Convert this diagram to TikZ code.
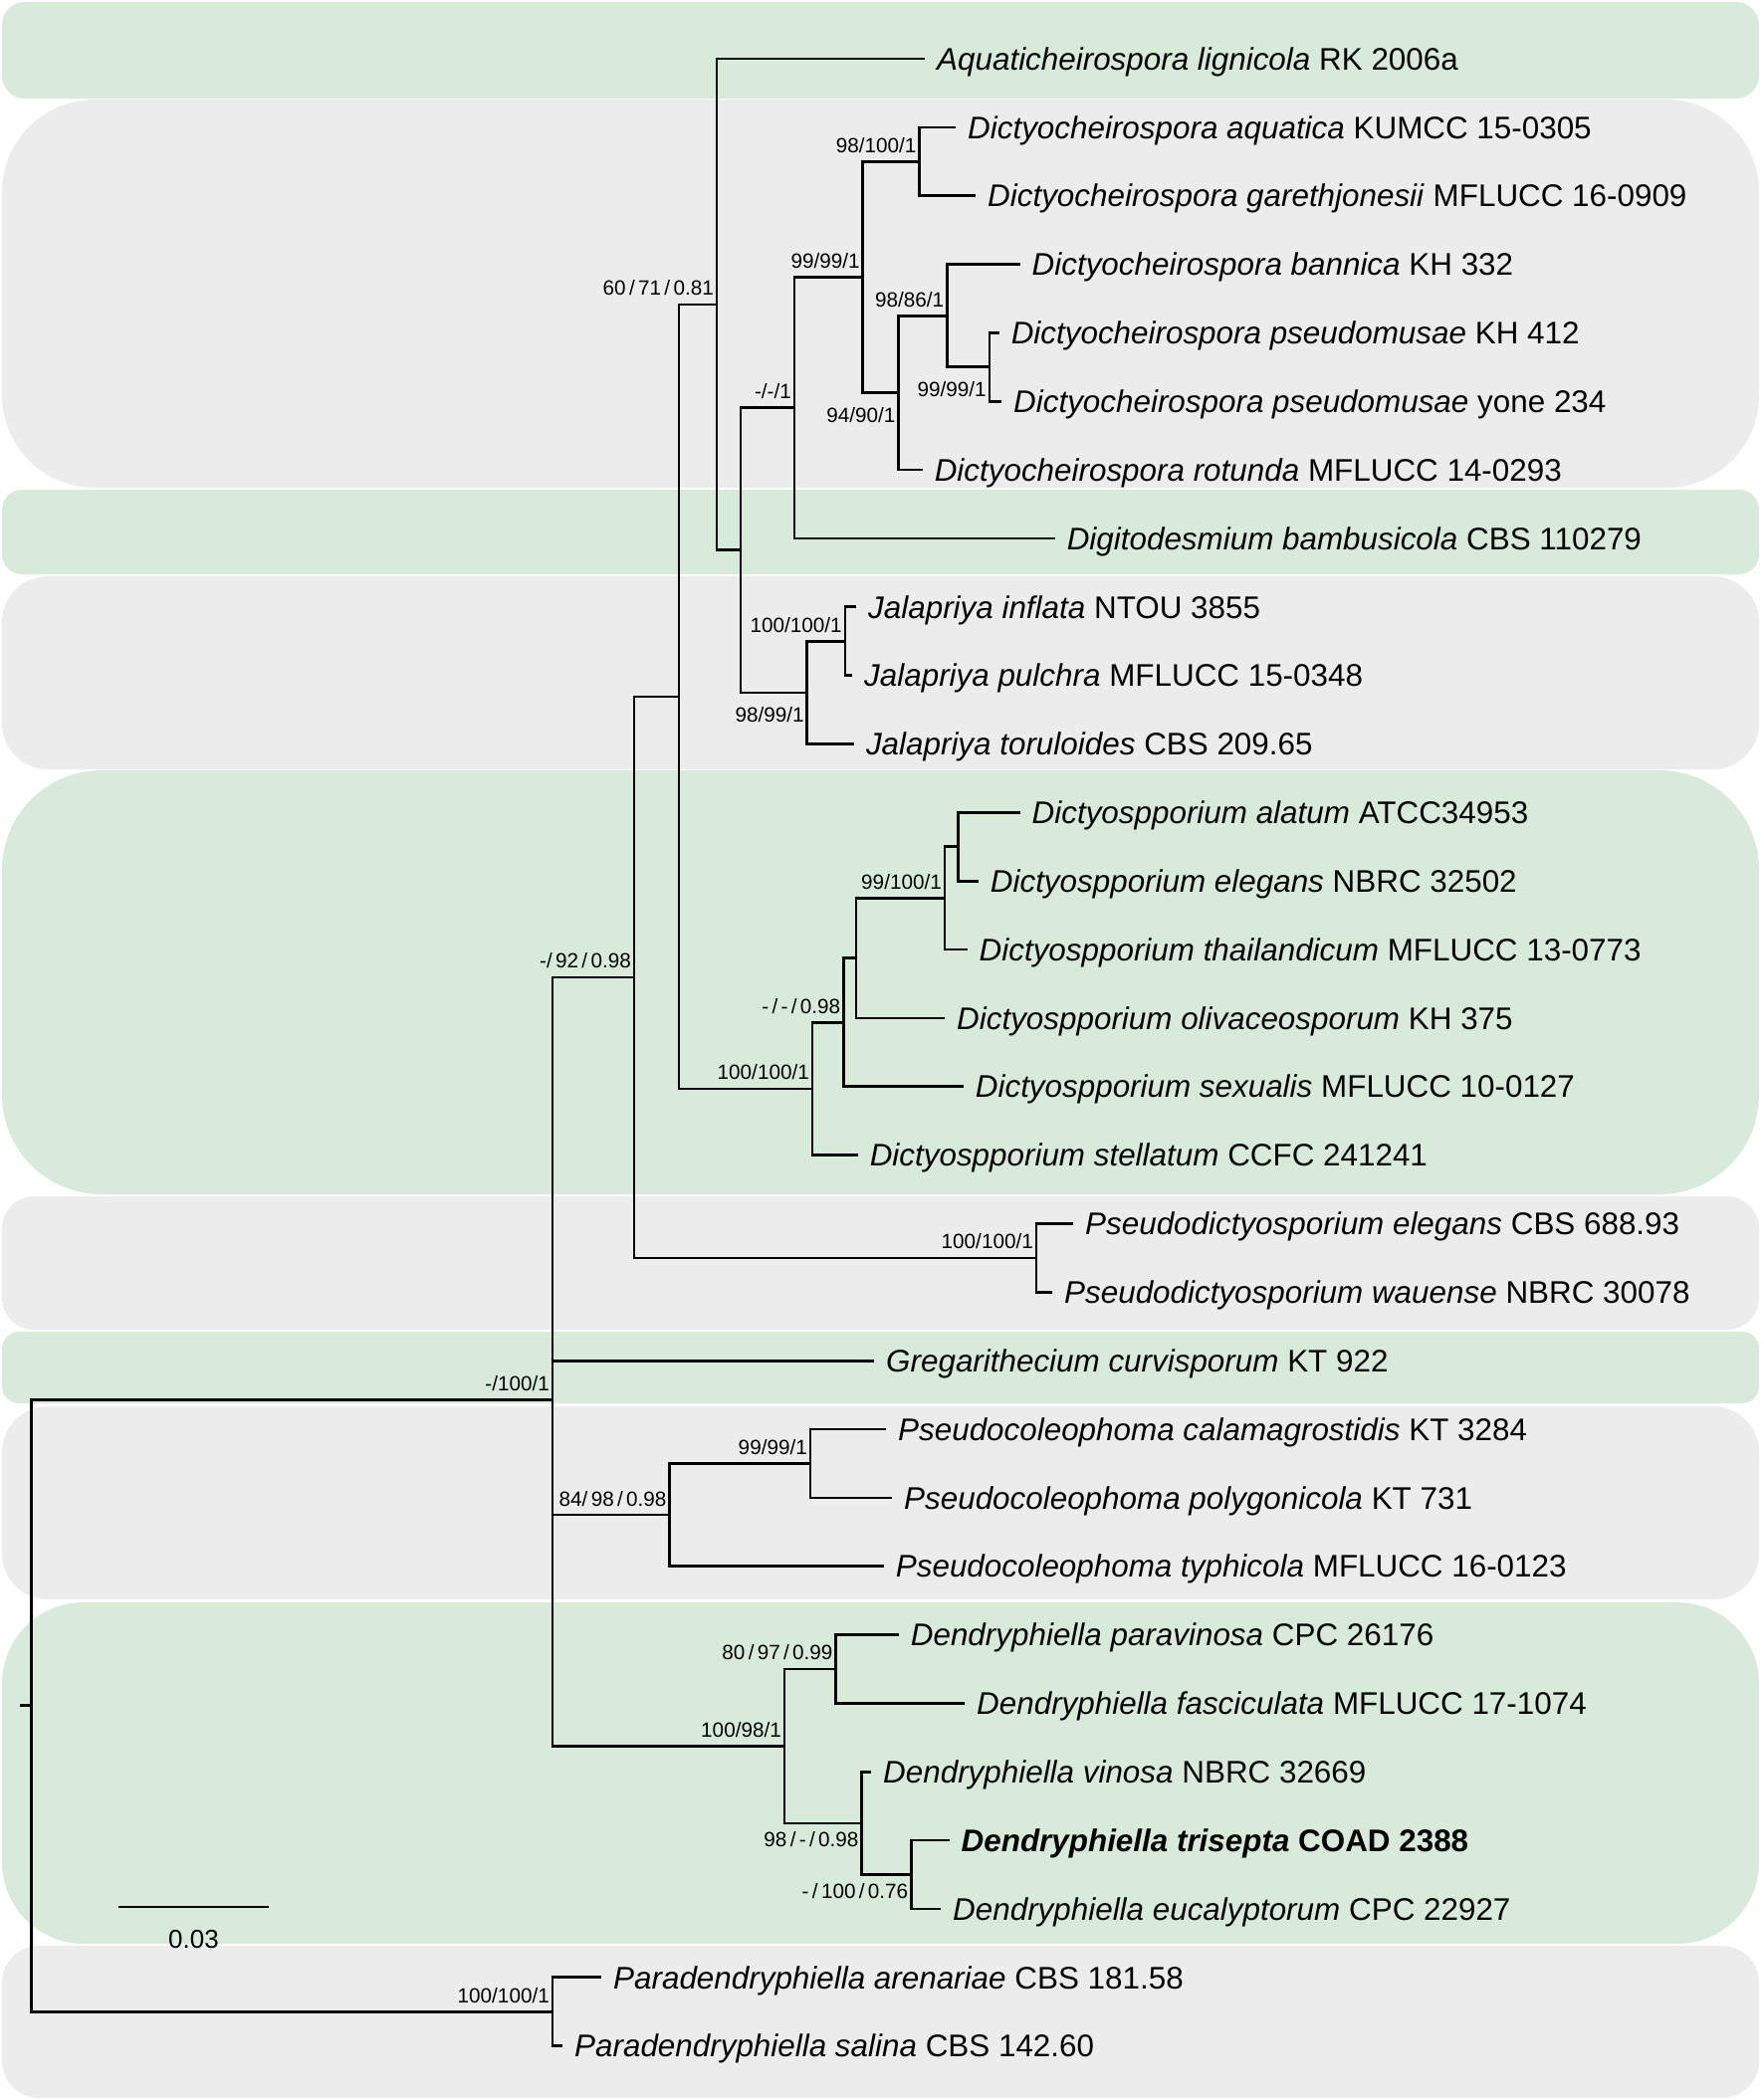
\documentclass[tikz,border=0pt]{standalone}
\usepackage{fontspec}
\setmainfont{Liberation Sans}
\definecolor{cladegreen}{HTML}{D8EAD9}
\definecolor{cladegray}{HTML}{ECECEC}
\newcommand{\rowy}[1]{59+68.85*(#1-1)}
\newcommand{\supfont}{\fontsize{20.7pt}{24pt}\selectfont\spaceskip=0.16em\relax}
\begin{document}
\begin{tikzpicture}[x=1pt, y=-1pt, branch/.style={line width=2.7pt, black}, clade/.style={fill=#1, draw=none}, tip/.style={anchor=west, inner xsep=12pt, inner ysep=0pt, text height=22.4pt, text depth=0pt, font=\fontsize{31.4pt}{36pt}\selectfont}, sup/.style={anchor=base east, inner sep=0pt, xshift=-3pt, yshift=9pt, font=\supfont}, supb/.style={sup, yshift=-39pt}]
        \useasboundingbox (0,0) rectangle (1772,2110);
        \fill[clade=cladegreen, rounded corners=23pt] (2,2) rectangle (1767,99);
        \fill[clade=cladegray, rounded corners=93pt] (2,100) rectangle (1767,490);
        \fill[clade=cladegreen, rounded corners=20pt] (2,492) rectangle (1767,577);
        \fill[clade=cladegray, rounded corners=46pt] (2,579) rectangle (1767,773);
        \fill[clade=cladegreen, rounded corners=100pt] (2,774) rectangle (1767,1200);
        \fill[clade=cladegray, rounded corners=32pt] (2,1202) rectangle (1767,1336);
        \fill[clade=cladegreen, rounded corners=17pt] (2,1338) rectangle (1767,1410);
        \fill[clade=cladegray, rounded corners=46pt] (2,1413) rectangle (1767,1607);
        \fill[clade=cladegreen, rounded corners=82pt] (2,1610) rectangle (1767,1953);
        \fill[clade=cladegray, rounded corners=37pt] (2,1955) rectangle (1767,2108);

        \node[tip] (t1) at (929,{\rowy{1}}) {\textit{Aquaticheirospora lignicola} RK 2006a};
        \node[tip] (t2) at (960,{\rowy{2}}) {\textit{Dictyocheirospora aquatica} KUMCC 15-0305};
        \node[tip] (t3) at (980,{\rowy{3}}) {\textit{Dictyocheirospora garethjonesii} MFLUCC 16-0909};
        \node[tip] (t4) at (1024.5,{\rowy{4}}) {\textit{Dictyocheirospora bannica} KH 332};
        \node[tip] (t5) at (1003.6,{\rowy{5}}) {\textit{Dictyocheirospora pseudomusae} KH 412};
        \node[tip] (t6) at (1006,{\rowy{6}}) {\textit{Dictyocheirospora pseudomusae} yone 234};
        \node[tip] (t7) at (926.6,{\rowy{7}}) {\textit{Dictyocheirospora rotunda} MFLUCC 14-0293};
        \node[tip] (t8) at (1059.6,{\rowy{8}}) {\textit{Digitodesmium bambusicola} CBS 110279};
        \node[tip] (t9) at (860,{\rowy{9}}) {\textit{Jalapriya inflata} NTOU 3855};
        \node[tip] (t10) at (856,{\rowy{10}}) {\textit{Jalapriya pulchra} MFLUCC 15-0348};
        \node[tip] (t11) at (857.8,{\rowy{11}}) {\textit{Jalapriya toruloides} CBS 209.65};
        \node[tip] (t12) at (1024.5,{\rowy{12}}) {\textit{Dictyospporium alatum} ATCC34953};
        \node[tip] (t13) at (982.7,{\rowy{13}}) {\textit{Dictyospporium elegans} NBRC 32502};
        \node[tip] (t14) at (971.5,{\rowy{14}}) {\textit{Dictyospporium thailandicum} MFLUCC 13-0773};
        \node[tip] (t15) at (949,{\rowy{15}}) {\textit{Dictyospporium olivaceosporum} KH 375};
        \node[tip] (t16) at (967.7,{\rowy{16}}) {\textit{Dictyospporium sexualis} MFLUCC 10-0127};
        \node[tip] (t17) at (861.6,{\rowy{17}}) {\textit{Dictyospporium stellatum} CCFC 241241};
        \node[tip] (t18) at (1078,{\rowy{18}}) {\textit{Pseudodictyosporium elegans} CBS 688.93};
        \node[tip] (t19) at (1057,{\rowy{19}}) {\textit{Pseudodictyosporium wauense} NBRC 30078};
        \node[tip] (t20) at (878,{\rowy{20}}) {\textit{Gregarithecium curvisporum} KT 922};
        \node[tip] (t21) at (890,{\rowy{21}}) {\textit{Pseudocoleophoma calamagrostidis} KT 3284};
        \node[tip] (t22) at (896,{\rowy{22}}) {\textit{Pseudocoleophoma polygonicola} KT 731};
        \node[tip] (t23) at (887.7,{\rowy{23}}) {\textit{Pseudocoleophoma typhicola} MFLUCC 16-0123};
        \node[tip] (t24) at (902.7,{\rowy{24}}) {\textit{Dendryphiella paravinosa} CPC 26176};
        \node[tip] (t25) at (969,{\rowy{25}}) {\textit{Dendryphiella fasciculata} MFLUCC 17-1074};
        \node[tip] (t26) at (875,{\rowy{26}}) {\textit{Dendryphiella vinosa} NBRC 32669};
        \node[tip] (t27) at (953.5,{\rowy{27}}) {\bfseries\textit{Dendryphiella trisepta} COAD 2388};
        \node[tip] (t28) at (945,{\rowy{28}}) {\textit{Dendryphiella eucalyptorum} CPC 22927};
        \node[tip] (t29) at (604,{\rowy{29}}) {\textit{Paradendryphiella arenariae} CBS 181.58};
        \node[tip] (t30) at (565,{\rowy{30}}) {\textit{Paradendryphiella salina} CBS 142.60};

        \coordinate (root) at (31.6,{\rowy{25.0349}});
        \coordinate (rt) at (20,{\rowy{25.0349}});
        \coordinate (n0) at (555,{\rowy{20.5698}});
        \coordinate (nA) at (637,{\rowy{14.4043}});
        \coordinate (nB) at (682,{\rowy{10.3086}});
        \coordinate (nC) at (720,{\rowy{4.5859}});
        \coordinate (nD) at (744,{\rowy{8.1719}});
        \coordinate (nE) at (798,{\rowy{6.0938}});
        \coordinate (nF) at (866.8,{\rowy{4.1875}});
        \coordinate (nG) at (923.6,{\rowy{2.5}});
        \coordinate (nH) at (902.7,{\rowy{5.875}});
        \coordinate (nI) at (951.3,{\rowy{4.75}});
        \coordinate (nJ) at (993.9,{\rowy{5.5}});
        \coordinate (nK) at (810.8,{\rowy{10.25}});
        \coordinate (nL) at (848.9,{\rowy{9.5}});
        \coordinate (nM) at (816,{\rowy{16.0313}});
        \coordinate (nN) at (847.4,{\rowy{15.0625}});
        \coordinate (nO) at (860,{\rowy{14.125}});
        \coordinate (nP) at (949,{\rowy{13.25}});
        \coordinate (nQ) at (962.5,{\rowy{12.5}});
        \coordinate (nPD) at (1041,{\rowy{18.5}});
        \coordinate (nR) at (672.7,{\rowy{22.25}});
        \coordinate (nS) at (814,{\rowy{21.5}});
        \coordinate (nT) at (788,{\rowy{25.625}});
        \coordinate (nU) at (839.7,{\rowy{24.5}});
        \coordinate (nV) at (865.6,{\rowy{26.75}});
        \coordinate (nW) at (915.4,{\rowy{27.5}});
        \coordinate (nPa) at (555,{\rowy{29.5}});

        \draw[branch] (rt) -- (root);
        \draw[branch] (root) |- (n0) (root) |- (nPa);
        \draw[branch] (n0) |- (nA) (n0) |- (t20.west) (n0) |- (nR) (n0) |- (nT);
        \draw[branch] (nA) |- (nB) (nA) |- (nPD);
        \draw[branch] (nB) |- (nC) (nB) |- (nM);
        \draw[branch] (nC) |- (t1.west) (nC) |- (nD);
        \draw[branch] (nD) |- (nE) (nD) |- (nK);
        \draw[branch] (nE) |- (nF) (nE) |- (t8.west);
        \draw[branch] (nF) |- (nG) (nF) |- (nH);
        \draw[branch] (nG) |- (t2.west) (nG) |- (t3.west);
        \draw[branch] (nH) |- (nI) (nH) |- (t7.west);
        \draw[branch] (nI) |- (t4.west) (nI) |- (nJ);
        \draw[branch] (nJ) |- (t5.west) (nJ) |- (t6.west);
        \draw[branch] (nK) |- (nL) (nK) |- (t11.west);
        \draw[branch] (nL) |- (t9.west) (nL) |- (t10.west);
        \draw[branch] (nM) |- (nN) (nM) |- (t17.west);
        \draw[branch] (nN) |- (nO) (nN) |- (t16.west);
        \draw[branch] (nO) |- (nP) (nO) |- (t15.west);
        \draw[branch] (nP) |- (nQ) (nP) |- (t14.west);
        \draw[branch] (nQ) |- (t12.west) (nQ) |- (t13.west);
        \draw[branch] (nPD) |- (t18.west) (nPD) |- (t19.west);
        \draw[branch] (nR) |- (nS) (nR) |- (t23.west);
        \draw[branch] (nS) |- (t21.west) (nS) |- (t22.west);
        \draw[branch] (nT) |- (nU) (nT) |- (nV);
        \draw[branch] (nU) |- (t24.west) (nU) |- (t25.west);
        \draw[branch] (nV) |- (t26.west) (nV) |- (nW);
        \draw[branch] (nW) |- (t27.west) (nW) |- (t28.west);
        \draw[branch] (nPa) |- (t29.west) (nPa) |- (t30.west);

        \node[sup] (lC) at (nC) {60 / 71 / 0.81};
        \node[sup] (lE) at (nE) {-/-/1};
        \node[sup] (lF) at (nF) {99/99/1};
        \node[sup] (lG) at (nG) {98/100/1};
        \node[supb] (lH) at (nH) {94/90/1};
        \node[sup] (lI) at (nI) {98/86/1};
        \node[supb] (lJ) at (nJ) {99/99/1};
        \node[supb] (lK) at (nK) {98/99/1};
        \node[sup] (lL) at (nL) {100/100/1};
        \node[sup] (lM) at (nM) {100/100/1};
        \node[sup] (lN) at (nN) {- / - / 0.98};
        \node[sup] (lP) at (nP) {99/100/1};
        \node[sup] (lPD) at (nPD) {100/100/1};
        \node[sup] (lA) at (nA) {-/ 92 / 0.98};
        \node[sup] (l0) at (n0) {-/100/1};
        \node[sup] (lS) at (nS) {99/99/1};
        \node[sup] (lR) at (nR) {84/ 98 / 0.98};
        \node[sup] (lU) at (nU) {80 / 97 / 0.99};
        \node[sup] (lT) at (nT) {100/98/1};
        \node[supb, yshift=6pt] (lV) at (nV) {98 / - / 0.98};
        \node[supb, yshift=6pt] (lW) at (nW) {- / 100 / 0.76};
        \node[sup] (lPa) at (nPa) {100/100/1};

        \coordinate (s0) at (119,1916);
        \coordinate (s1) at (270,1916);
        \draw[branch] (s0) -- (s1);
        \node[inner sep=0pt, text height=18.6pt, font=\fontsize{26pt}{30pt}\selectfont] (slbl) at (194.5,1948) {0.03};
\end{tikzpicture}
\end{document}
